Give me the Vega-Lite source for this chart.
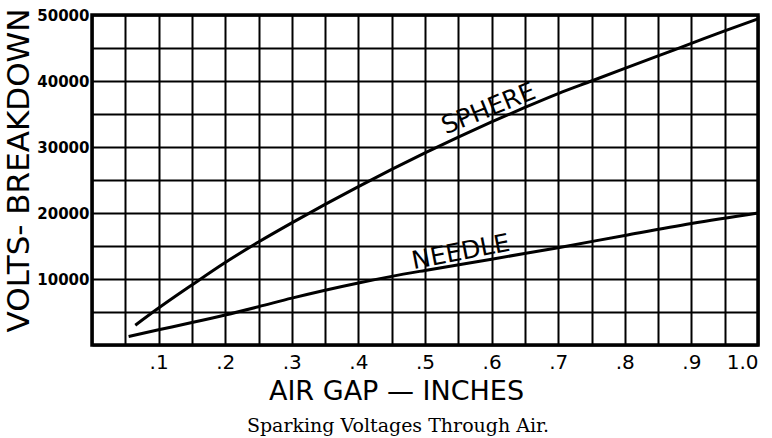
{
  "$schema": "https://vega.github.io/schema/vega-lite/v6.json",
  "width": 666,
  "height": 330,
  "autosize": {"type": "none"},
  "padding": {"left": 92, "top": 15, "right": 14, "bottom": 93},
  "background": "white",
  "title": {
    "text": "Sparking Voltages Through Air.",
    "orient": "bottom",
    "font": "DejaVu Serif",
    "fontSize": 19,
    "fontWeight": "normal",
    "color": "black",
    "dx": -27,
    "offset": 13
  },
  "config": {
    "view": {"stroke": "black", "strokeWidth": 3.5},
    "axis": {
      "grid": true,
      "gridColor": "black",
      "gridWidth": 2,
      "gridOpacity": 1,
      "domain": false,
      "ticks": false,
      "labelColor": "black",
      "titleColor": "black"
    }
  },
  "datasets": {
    "curves": [
      {"gap": 0.065, "volts": 3000, "series": "Sphere"},
      {"gap": 0.1, "volts": 5600, "series": "Sphere"},
      {"gap": 0.15, "volts": 9100, "series": "Sphere"},
      {"gap": 0.2, "volts": 12500, "series": "Sphere"},
      {"gap": 0.25, "volts": 15600, "series": "Sphere"},
      {"gap": 0.3, "volts": 18500, "series": "Sphere"},
      {"gap": 0.35, "volts": 21300, "series": "Sphere"},
      {"gap": 0.4, "volts": 24000, "series": "Sphere"},
      {"gap": 0.45, "volts": 26600, "series": "Sphere"},
      {"gap": 0.5, "volts": 29100, "series": "Sphere"},
      {"gap": 0.55, "volts": 31500, "series": "Sphere"},
      {"gap": 0.6, "volts": 33800, "series": "Sphere"},
      {"gap": 0.65, "volts": 36000, "series": "Sphere"},
      {"gap": 0.7, "volts": 38100, "series": "Sphere"},
      {"gap": 0.75, "volts": 40000, "series": "Sphere"},
      {"gap": 0.8, "volts": 41900, "series": "Sphere"},
      {"gap": 0.85, "volts": 43800, "series": "Sphere"},
      {"gap": 0.9, "volts": 45700, "series": "Sphere"},
      {"gap": 0.95, "volts": 47600, "series": "Sphere"},
      {"gap": 1.0, "volts": 49400, "series": "Sphere"},
      {"gap": 0.055, "volts": 1300, "series": "Needle"},
      {"gap": 0.1, "volts": 2300, "series": "Needle"},
      {"gap": 0.15, "volts": 3400, "series": "Needle"},
      {"gap": 0.2, "volts": 4550, "series": "Needle"},
      {"gap": 0.25, "volts": 5800, "series": "Needle"},
      {"gap": 0.3, "volts": 7100, "series": "Needle"},
      {"gap": 0.35, "volts": 8300, "series": "Needle"},
      {"gap": 0.4, "volts": 9400, "series": "Needle"},
      {"gap": 0.45, "volts": 10400, "series": "Needle"},
      {"gap": 0.5, "volts": 11300, "series": "Needle"},
      {"gap": 0.6, "volts": 13000, "series": "Needle"},
      {"gap": 0.7, "volts": 14750, "series": "Needle"},
      {"gap": 0.8, "volts": 16600, "series": "Needle"},
      {"gap": 0.9, "volts": 18400, "series": "Needle"},
      {"gap": 1.0, "volts": 20000, "series": "Needle"}
    ],
    "labels": [
      {"gap": 0.6, "volts": 34700, "label": "SPHERE"},
      {"gap": 0.556, "volts": 12900, "label": "NEEDLE"}
    ]
  },
  "encoding": {
    "x": {
      "field": "gap",
      "type": "quantitative",
      "scale": {"domain": [0, 1], "nice": false, "zero": false},
      "axis": {
        "values": [0, 0.05, 0.1, 0.15, 0.2, 0.25, 0.3, 0.35, 0.4, 0.45, 0.5, 0.55, 0.6, 0.65, 0.7, 0.75, 0.8, 0.85, 0.9, 0.95, 1.0],
        "labelExpr": "datum.value > 0.99 ? '1.0' : (datum.value > 0.01 && round(datum.value * 100) % 10 == 0 ? '.' + round(datum.value * 10) : '')",
        "labelFont": "DejaVu Sans",
        "labelFontSize": 20,
        "labelPadding": 7,
        "labelOverlap": false,
        "title": "AIR GAP  —   INCHES",
        "titleFont": "DejaVu Sans",
        "titleFontSize": 27,
        "titleFontWeight": "normal",
        "titleX": 304,
        "titleY": 46,
        "titleBaseline": "middle",
        "titleAlign": "center"
      }
    },
    "y": {
      "field": "volts",
      "type": "quantitative",
      "scale": {"domain": [0, 50000], "nice": false},
      "axis": {
        "values": [0, 5000, 10000, 15000, 20000, 25000, 30000, 35000, 40000, 45000, 50000],
        "labelExpr": "datum.value > 0 && datum.value % 10000 == 0 ? '' + datum.value : ''",
        "labelFont": "DejaVu Sans",
        "labelFontWeight": "bold",
        "labelFontSize": 15,
        "labelPadding": 3,
        "labelBaseline": "middle",
        "labelOverlap": false,
        "title": "VOLTS- BREAKDOWN",
        "titleFont": "DejaVu Sans",
        "titleFontSize": 31,
        "titleFontWeight": "normal",
        "titleAngle": -90,
        "titleX": -73,
        "titleY": 155,
        "titleBaseline": "middle",
        "titleAlign": "center"
      }
    }
  },
  "layer": [
    {
      "data": {"name": "curves"},
      "mark": {"type": "line", "color": "black", "strokeWidth": 3, "interpolate": "monotone"},
      "encoding": {
        "detail": {"field": "series"}
      }
    },
    {
      "data": {"name": "labels"},
      "transform": [{"filter": "datum.label == 'SPHERE'"}],
      "mark": {"type": "text", "angle": 338, "font": "DejaVu Sans", "fontSize": 25, "color": "black", "baseline": "alphabetic", "align": "center"},
      "encoding": {
        "text": {"field": "label"}
      }
    },
    {
      "data": {"name": "labels"},
      "transform": [{"filter": "datum.label == 'NEEDLE'"}],
      "mark": {"type": "text", "angle": 349, "font": "DejaVu Sans", "fontSize": 25, "color": "black", "baseline": "alphabetic", "align": "center"},
      "encoding": {
        "text": {"field": "label"}
      }
    }
  ]
}
